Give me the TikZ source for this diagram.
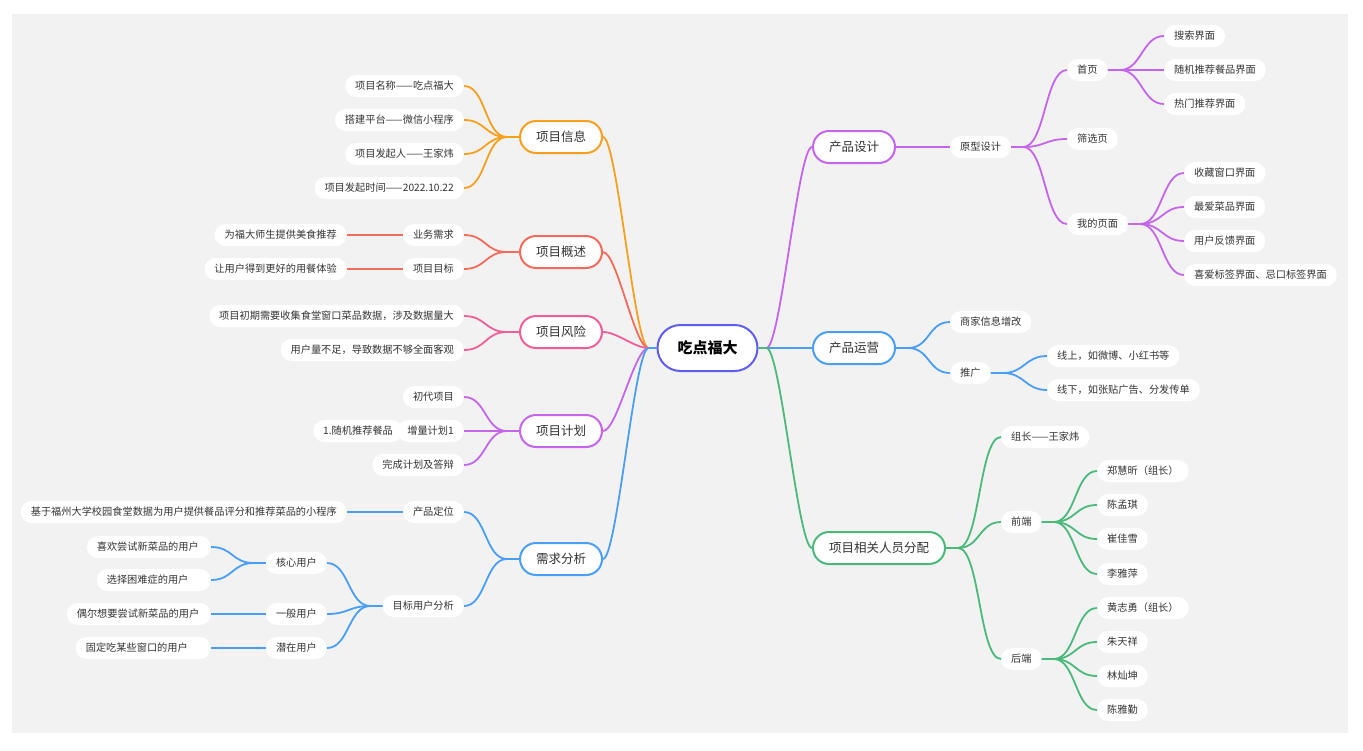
\documentclass[tikz,border=0pt]{standalone}
\usepackage{fontspec}
\setmainfont{Noto Sans CJK SC}
\definecolor{cOr}{HTML}{F5A01F}
\definecolor{cRd}{HTML}{F26B5B}
\definecolor{cPk}{HTML}{EF6099}
\definecolor{cPu}{HTML}{C465EA}
\definecolor{cBl}{HTML}{4A9FF5}
\definecolor{cGr}{HTML}{4CB97C}
\definecolor{cIn}{HTML}{5D5DF0}
\definecolor{txt}{HTML}{333333}
\definecolor{panel}{HTML}{F2F2F2}
\begin{document}
\begin{tikzpicture}[x=1pt,y=-1pt,
  rootbox/.style={draw=cIn, line width=2pt, fill=white, rounded corners=23pt, minimum height=46pt, inner xsep=20pt, inner ysep=0pt, font=\fontsize{15}{18}\selectfont\bfseries, text=black},
  topic/.style={draw=#1, line width=2pt, fill=white, rounded corners=16pt, minimum height=32pt, inner xsep=16pt, inner ysep=0pt, font=\fontsize{12.5}{15}\selectfont, text=txt},
  leaf/.style={fill=white, rounded corners=11pt, minimum height=22pt, inner xsep=10pt, inner ysep=0pt, font=\fontsize{10.2}{12}\selectfont, text=txt},
  wideleaf/.style={leaf, text width=#1, align=left},
  ln/.style={draw=#1, line width=1.8pt}]
\useasboundingbox (0,0) rectangle (1363,750);
\fill[white] (0,0) rectangle (1363,750);
\fill[panel] (12,14) rectangle (1348,733);

% root and topics
\node[rootbox] (root) at (707.5,348) {吃点福大};
\node[topic=cOr, anchor=east] (info) at (603,137) {项目信息};
\node[topic=cRd, anchor=east] (over) at (603,252) {项目概述};
\node[topic=cPk, anchor=east] (risk) at (603,332) {项目风险};
\node[topic=cPu, anchor=east] (plan) at (603,431) {项目计划};
\node[topic=cBl, anchor=east] (need) at (603,559) {需求分析};
\node[topic=cPu, anchor=west] (design) at (812,147) {产品设计};
\node[topic=cBl, anchor=west] (ops) at (812,348) {产品运营};
\node[topic=cGr, anchor=west] (staff) at (812,548) {项目相关人员分配};

% left leaves
\node[leaf, anchor=east] (i1) at (464,86) {项目名称——吃点福大};
\node[leaf, anchor=east] (i2) at (464,120) {搭建平台——微信小程序};
\node[leaf, anchor=east] (i3) at (464,154) {项目发起人——王家炜};
\node[leaf, anchor=east] (i4) at (464,188) {项目发起时间——2022.10.22};

\node[leaf, anchor=east] (o1) at (464,235) {业务需求};
\node[leaf, anchor=east] (o2) at (464,269) {项目目标};
\node[leaf, anchor=east] (o1a) at (347,235) {为福大师生提供美食推荐};
\node[leaf, anchor=east] (o2a) at (347,269) {让用户得到更好的用餐体验};

\node[leaf, anchor=east] (r1) at (464,316) {项目初期需要收集食堂窗口菜品数据，涉及数据量大};
\node[leaf, anchor=east] (r2) at (464,350) {用户量不足，导致数据不够全面客观};

\node[leaf, anchor=west] (p2a) at (313,431) {1.随机推荐餐品};
\node[leaf, anchor=east] (p1) at (464,397) {初代项目};
\node[leaf, anchor=east] (p2) at (464,431) {增量计划1};
\node[leaf, anchor=east] (p3) at (464,465) {完成计划及答辩};

\node[leaf, anchor=east] (n1) at (464,512) {产品定位};
\node[leaf, anchor=east] (n2) at (464,606) {目标用户分析};
\node[leaf, anchor=east] (n1a) at (347,512) {基于福州大学校园食堂数据为用户提供餐品评分和推荐菜品的小程序};
\node[leaf, anchor=east] (u1) at (327,563) {核心用户};
\node[leaf, anchor=east] (u2) at (327,614) {一般用户};
\node[leaf, anchor=east] (u3) at (327,648) {潜在用户};
\node[wideleaf=104pt, anchor=east] (u1a) at (211,547) {喜欢尝试新菜品的用户};
\node[wideleaf=94pt, anchor=east] (u1b) at (211,580) {选择困难症的用户};
\node[wideleaf=124pt, anchor=east] (u2a) at (211,614) {偶尔想要尝试新菜品的用户};
\node[wideleaf=115pt, anchor=east] (u3a) at (211,648) {固定吃某些窗口的用户};

% right leaves
\node[leaf, anchor=west] (d1) at (950,147) {原型设计};
\node[leaf, anchor=west] (da) at (1067,70) {首页};
\node[leaf, anchor=west] (db) at (1067,139) {筛选页};
\node[leaf, anchor=west] (dc) at (1067,224) {我的页面};
\node[leaf, anchor=west] (da1) at (1164,36) {搜索界面};
\node[leaf, anchor=west] (da2) at (1164,70) {随机推荐餐品界面};
\node[leaf, anchor=west] (da3) at (1164,104) {热门推荐界面};
\node[leaf, anchor=west] (dc1) at (1184,173) {收藏窗口界面};
\node[leaf, anchor=west] (dc2) at (1184,207) {最爱菜品界面};
\node[leaf, anchor=west] (dc3) at (1184,241) {用户反馈界面};
\node[leaf, anchor=west] (dc4) at (1184,275) {喜爱标签界面、忌口标签界面};

\node[leaf, anchor=west] (s1) at (950,322) {商家信息增改};
\node[leaf, anchor=west] (s2) at (950,373) {推广};
\node[leaf, anchor=west] (s2a) at (1047,356) {线上，如微博、小红书等};
\node[leaf, anchor=west] (s2b) at (1047,390) {线下，如张贴广告、分发传单};

\node[leaf, anchor=west] (t1) at (1001,437) {组长——王家炜};
\node[leaf, anchor=west] (t2) at (1001,522) {前端};
\node[leaf, anchor=west] (t3) at (1001,659) {后端};
\node[leaf, anchor=west] (f1) at (1097,471) {郑慧昕（组长）};
\node[leaf, anchor=west] (f2) at (1097,505) {陈孟琪};
\node[leaf, anchor=west] (f3) at (1097,539) {崔佳雪};
\node[leaf, anchor=west] (f4) at (1097,574) {李雅萍};
\node[leaf, anchor=west] (b1) at (1097,608) {黄志勇（组长）};
\node[leaf, anchor=west] (b2) at (1097,642) {朱天祥};
\node[leaf, anchor=west] (b3) at (1097,676) {林灿坤};
\node[leaf, anchor=west] (b4) at (1097,710) {陈雅勤};

% root connectors
\foreach \t/\c in {info/cOr, over/cRd, risk/cPk, plan/cPu, need/cBl}
  \draw[ln=\c] (root.west) -- ++(-8,0) .. controls +(-14,0) and +(14,0) .. (\t.east);
\foreach \t/\c in {design/cPu, ops/cBl, staff/cGr}
  \draw[ln=\c] (root.east) -- ++(8,0) .. controls +(14,0) and +(-14,0) .. (\t.west);

% left fans
\foreach \c in {i1,i2,i3,i4}
  \draw[ln=cOr] (info.west) -- ++(-12,0) .. controls +(-22,0) and +(22,0) .. (\c.east);
\foreach \c in {o1,o2}
  \draw[ln=cRd] (over.west) -- ++(-12,0) .. controls +(-22,0) and +(22,0) .. (\c.east);
\draw[ln=cRd] (o1.west) -- (o1a.east);
\draw[ln=cRd] (o2.west) -- (o2a.east);
\foreach \c in {r1,r2}
  \draw[ln=cPk] (risk.west) -- ++(-12,0) .. controls +(-22,0) and +(22,0) .. (\c.east);
\foreach \c in {p1,p2,p3}
  \draw[ln=cPu] (plan.west) -- ++(-12,0) .. controls +(-22,0) and +(22,0) .. (\c.east);
\foreach \c in {n1,n2}
  \draw[ln=cBl] (need.west) -- ++(-12,0) .. controls +(-22,0) and +(22,0) .. (\c.east);
\draw[ln=cBl] (n1.west) -- (n1a.east);
\foreach \c in {u1,u2,u3}
  \draw[ln=cBl] (n2.west) -- ++(-12,0) .. controls +(-22,0) and +(22,0) .. (\c.east);
\foreach \c in {u1a,u1b}
  \draw[ln=cBl] (u1.west) -- ++(-12,0) .. controls +(-22,0) and +(22,0) .. (\c.east);
\draw[ln=cBl] (u2.west) -- (u2a.east);
\draw[ln=cBl] (u3.west) -- (u3a.east);

% right fans
\draw[ln=cPu] (design.east) -- (d1.west);
\foreach \c in {da,db,dc}
  \draw[ln=cPu] (d1.east) -- ++(12,0) .. controls +(22,0) and +(-22,0) .. (\c.west);
\foreach \c in {da1,da2,da3}
  \draw[ln=cPu] (da.east) -- ++(12,0) .. controls +(22,0) and +(-22,0) .. (\c.west);
\foreach \c in {dc1,dc2,dc3,dc4}
  \draw[ln=cPu] (dc.east) -- ++(12,0) .. controls +(22,0) and +(-22,0) .. (\c.west);
\foreach \c in {s1,s2}
  \draw[ln=cBl] (ops.east) -- ++(12,0) .. controls +(22,0) and +(-22,0) .. (\c.west);
\foreach \c in {s2a,s2b}
  \draw[ln=cBl] (s2.east) -- ++(12,0) .. controls +(22,0) and +(-22,0) .. (\c.west);
\foreach \c in {t1,t2,t3}
  \draw[ln=cGr] (staff.east) -- ++(12,0) .. controls +(22,0) and +(-22,0) .. (\c.west);
\foreach \c in {f1,f2,f3,f4}
  \draw[ln=cGr] (t2.east) -- ++(12,0) .. controls +(22,0) and +(-22,0) .. (\c.west);
\foreach \c in {b1,b2,b3,b4}
  \draw[ln=cGr] (t3.east) -- ++(12,0) .. controls +(22,0) and +(-22,0) .. (\c.west);
\end{tikzpicture}
\end{document}
